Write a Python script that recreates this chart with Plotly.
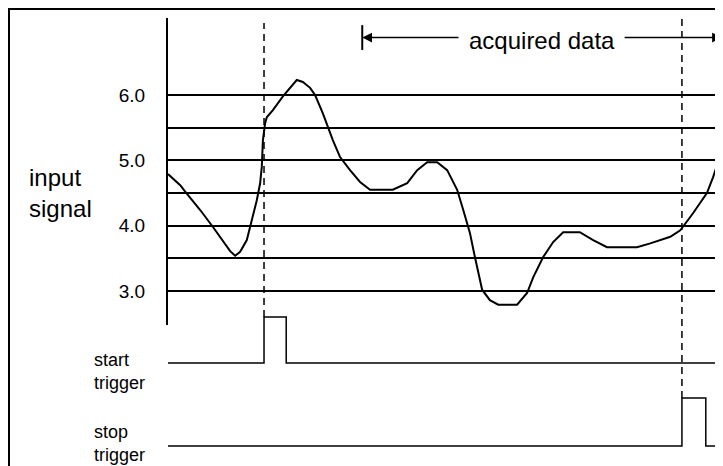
import plotly.graph_objs as go

# input signal (time in arbitrary units, volts)
signal_time = [0.0, 2.2, 3.1, 5.8, 8.1, 9.7, 11.2, 12.1, 13.0, 14.2, 15.1, 16.0,
               16.6, 16.9, 17.1, 17.5, 17.8, 18.9, 20.7, 22.0, 23.2, 24.3, 25.6,
               26.5, 27.9, 29.7, 31.0, 32.8, 34.6, 36.4, 40.5, 43.1, 44.9, 46.7,
               48.5, 50.3, 52.1, 53.2, 54.4, 55.3, 56.6, 58.0, 59.5, 62.9, 64.7,
               65.8, 67.6, 69.4, 71.2, 74.2, 76.6, 79.1, 84.5, 86.9, 90.5, 92.3,
               94.6, 97.1, 98.2, 99.1]
signal_volts = [4.79, 4.62, 4.52, 4.24, 3.98, 3.78, 3.61, 3.54, 3.60, 3.78, 4.09, 4.39,
                4.65, 4.90, 5.31, 5.57, 5.66, 5.77, 5.98, 6.11, 6.23, 6.20, 6.11,
                6.00, 5.72, 5.31, 5.05, 4.85, 4.67, 4.55, 4.55, 4.65, 4.85, 4.97,
                4.97, 4.85, 4.55, 4.24, 3.89, 3.52, 3.02, 2.86, 2.79, 2.79, 2.97,
                3.21, 3.52, 3.75, 3.90, 3.90, 3.78, 3.67, 3.67, 3.73, 3.83, 3.93,
                4.19, 4.50, 4.74, 4.97]

# volt levels drawn as lines, labels only on whole volts
level_vals = [3.0, 3.5, 4.0, 4.5, 5.0, 5.5, 6.0]
level_text = ['3.0', '', '4.0', '', '5.0', '', '6.0']

# triggers (step signals)
start_time = 17.3
stop_time = 92.6
start_trigger_t = [0, start_time, 21.3, 100]
start_trigger_lvl = [0, 1, 0, 0]
stop_trigger_t = [0, stop_time, 96.9, 100]
stop_trigger_lvl = [0, 1, 0, 0]

acquire_from = 35.0
acquire_to = 99.8

# page body adds an 8px margin, so the figure is 8px smaller than the window
W, H = 715, 458

fig = go.Figure()

fig.add_trace(go.Scatter(x=signal_time, y=signal_volts, mode='lines',
                         line=dict(color='black', width=2), xaxis='x', yaxis='y'))
fig.add_trace(go.Scatter(x=start_trigger_t, y=start_trigger_lvl, mode='lines',
                         line=dict(color='black', width=1.5, shape='hv'),
                         xaxis='x', yaxis='y2'))
fig.add_trace(go.Scatter(x=stop_trigger_t, y=stop_trigger_lvl, mode='lines',
                         line=dict(color='black', width=1.5, shape='hv'),
                         xaxis='x', yaxis='y3'))

font = 'Liberation Sans, Arial, sans-serif'

fig.update_layout(
    width=W, height=H,
    margin=dict(l=0, r=0, t=0, b=0),
    paper_bgcolor='white', plot_bgcolor='rgba(0,0,0,0)',
    showlegend=False,
    font=dict(family=font, color='black'),
    xaxis=dict(domain=[160 / W, 1], range=[0, 100], visible=False),
    yaxis=dict(domain=[0.30786, 0.97817], range=[2.48, 7.179],
               tickvals=level_vals, ticktext=level_text,
               showgrid=True, gridcolor='black', gridwidth=1.5,
               showline=True, linecolor='black', linewidth=2,
               zeroline=False, ticks='', ticklabelstandoff=17,
               tickfont=dict(size=19, family=font, color='black')),
    yaxis2=dict(domain=[0.18777, 0.36245], range=[-0.3696, 1.3696],
                anchor='x', visible=False),
    yaxis3=dict(domain=[0, 0.18777], range=[-0.4167, 1.375],
                anchor='x', visible=False),
)

# frame
fig.add_shape(type='rect', xref='paper', yref='paper',
              x0=1 / W, x1=1.02, y0=-0.02, y1=(H - 1) / H,
              line=dict(color='black', width=2))

# dashed trigger markers
fig.add_shape(type='line', xref='x', yref='paper', x0=start_time, x1=start_time,
              y0=0.32533, y1=0.96725, line=dict(color='black', width=1.5, dash='7px,5px'))
fig.add_shape(type='line', xref='x', yref='paper', x0=stop_time, x1=stop_time,
              y0=0.14847, y1=0.97817, line=dict(color='black', width=1.5, dash='7px,5px'))

# acquired data span
arrow_y = 6.88
fig.add_shape(type='line', xref='x', yref='y', x0=acquire_from, x1=acquire_from,
              y0=6.69, y1=7.07, line=dict(color='black', width=2))
fig.add_annotation(x=acquire_from, y=arrow_y, ax=52.6, ay=arrow_y, xref='x', yref='y',
                   axref='x', ayref='y', text='', showarrow=True,
                   arrowhead=2, arrowsize=1.3, arrowwidth=1.5, arrowcolor='black')
fig.add_annotation(x=acquire_to, y=arrow_y, ax=82.0, ay=arrow_y, xref='x', yref='y',
                   axref='x', ayref='y', text='', showarrow=True,
                   arrowhead=2, arrowsize=1.3, arrowwidth=1.5, arrowcolor='black')
fig.add_annotation(x=67.4, y=6.84, xref='x', yref='y', text='acquired data',
                   showarrow=False, font=dict(size=24))

# side labels
fig.add_annotation(x=19 / W, y=0.5961, xref='paper', yref='paper',
                   text='input<br>signal', showarrow=False, align='left',
                   xanchor='left', yanchor='middle', font=dict(size=24))
fig.add_annotation(x=84 / W, y=0.20742, xref='paper', yref='paper',
                   text='start<br>trigger', showarrow=False, align='left',
                   xanchor='left', yanchor='middle', font=dict(size=18))
fig.add_annotation(x=84 / W, y=0.05, xref='paper', yref='paper',
                   text='stop<br>trigger', showarrow=False, align='left',
                   xanchor='left', yanchor='middle', font=dict(size=18))

fig.write_html("out.html")
